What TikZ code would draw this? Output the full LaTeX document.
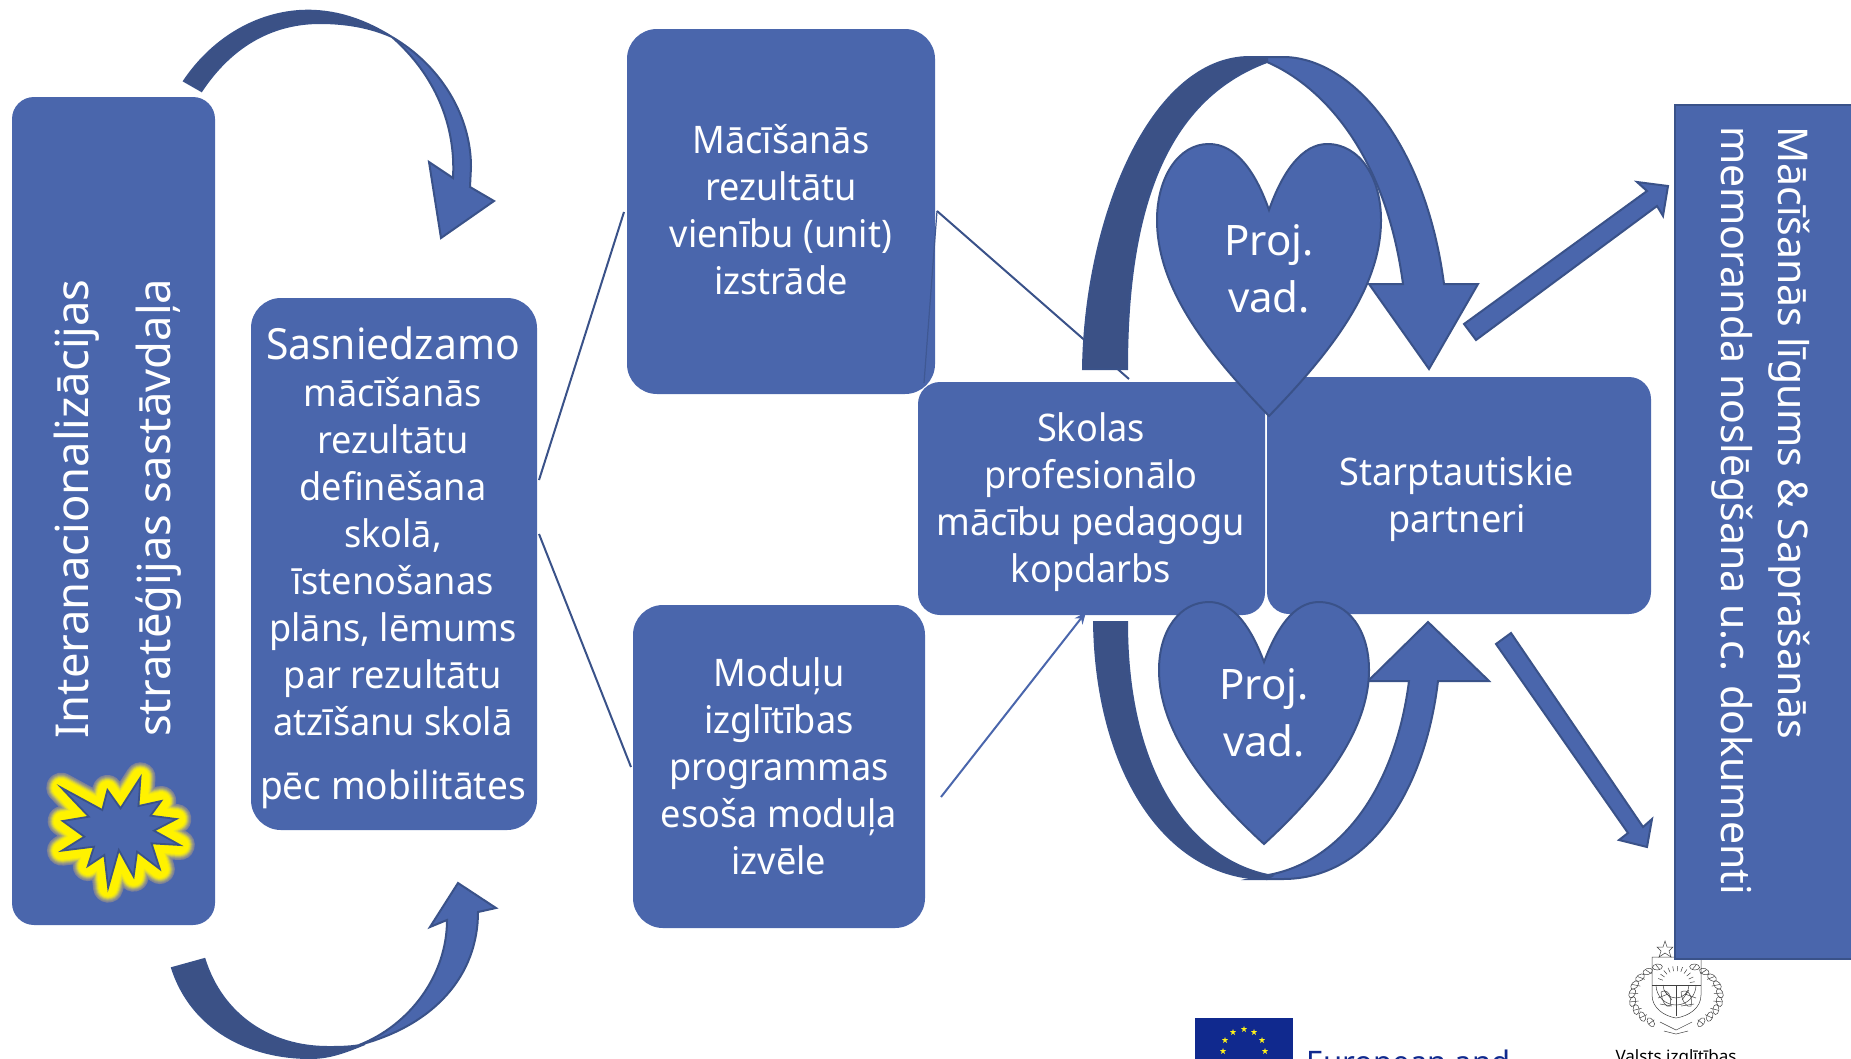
\documentclass[tikz,border=0pt]{standalone}
\usepackage{fontspec}
\setmainfont[FakeStretch=0.95]{Noto Sans}
\newfontfamily\plainfont{Noto Sans}
\usetikzlibrary{arrows.meta}
\definecolor{boxblue}{HTML}{4A66AC}
\definecolor{edgeblue}{HTML}{3A5289}
\definecolor{foldblue}{HTML}{3B5186}
\definecolor{eublue}{HTML}{10298E}
\tikzset{
  boxnode/.style={fill=boxblue,draw=none,text=white,align=center,inner sep=0pt,rounded corners=#1,font=\fontsize{38}{47}\selectfont},
  boxnode/.default=22pt,
  sidetext/.style={text=white,inner sep=0pt,font=\plainfont\fontsize{45.4}{47}\selectfont},
  agrtext/.style={text=white,inner sep=0pt,font=\plainfont\fontsize{41}{47}\selectfont},
  hearttext/.style={text=white,align=center,inner sep=0pt,font=\plainfont\fontsize{42}{57}\selectfont},
  thinlink/.style={draw=edgeblue,line width=2pt},
  arrowlight/.style={fill=boxblue,draw=edgeblue,line width=2pt,line join=miter},
  arrowdark/.style={fill=foldblue,draw=edgeblue,line width=2pt,line join=miter},
  armline/.style={draw=black!75,line width=0.5pt},
}
\newcommand{\euStar}[2]{\fill[yellow!90!white] (#1,#2) ++(0,-3) -- ++(0.8,2.2) -- ++(2.2,0) -- ++(-1.8,1.4) -- ++(0.8,2.4) -- ++(-2,-1.5) -- ++(-2,1.5) -- ++(0.8,-2.4) -- ++(-1.8,-1.4) -- ++(2.2,0) -- cycle;}
\newcommand{\starPath}{(178,143) -- (297,210) -- (312,150) -- (350,205) -- (408,112) -- (402,198) -- (468,183) -- (437,227) -- (512,237) -- (447,272) -- (522,315) -- (440,310) -- (464,387) -- (398,335) -- (388,410) -- (345,330) -- (314,443) -- (303,345) -- (255,378) -- (273,320) -- (180,332) -- (245,290) -- (182,243) -- (258,230) -- cycle}
\begin{document}
\begin{tikzpicture}[x=1pt,y=-1pt]
\useasboundingbox (0,0) rectangle (1851,1058);
\clip (0,0) rectangle (1851,1058);

% logos at the foot
\fill[eublue] (1195,1018) rectangle (1293,1070);
\euStar{1244}{1029}\euStar{1233}{1032}\euStar{1254}{1032}\euStar{1225}{1040}\euStar{1262}{1040}\euStar{1223}{1051}\euStar{1265}{1051}
\node[anchor=base west,inner sep=0pt,text=eublue,font=\plainfont\fontsize{31}{36}\selectfont] (eutext) at (1306,1073) {European and};

% coat of arms
\draw[armline] (1652,957) -- (1652,995) .. controls (1652,1008) and (1664,1016) .. (1676,1018) .. controls (1689,1016) and (1701,1008) .. (1701,995) -- (1701,957) -- cycle;
\draw[armline] (1652,985) -- (1701,985) (1676,985) -- (1676,1016);
\draw[armline] (1656,985) arc[start angle=180,end angle=0,radius=20];
\draw[armline] (1663,985) arc[start angle=180,end angle=0,radius=13];
\foreach \a in {10,25,...,170}{
  \draw[armline] ({1676+14*cos(\a)},{985-14*sin(\a)}) -- ({1676+19*cos(\a)},{985-19*sin(\a)});
}
\draw[armline] (1661,992) .. controls (1668,988) and (1672,996) .. (1670,1006) .. controls (1666,1008) and (1662,1002) .. (1661,992);
\draw[armline] (1664,990) -- (1672,1000) (1658,998) -- (1668,994) (1660,1004) -- (1672,1006);
\draw[armline] (1681,992) .. controls (1688,988) and (1693,996) .. (1691,1006) .. controls (1687,1008) and (1682,1002) .. (1681,992);
\draw[armline] (1689,990) -- (1682,1000) (1696,998) -- (1685,994) (1694,1004) -- (1681,1006);
\draw[armline] (1665,941) -- (1667,947) -- (1673,947) -- (1669,951) -- (1671,957) -- (1665,953) -- (1659,957) -- (1661,951) -- (1657,947) -- (1663,947) -- cycle;
\foreach \a in {-65,-50,...,55}{
  \draw[armline] ({1676-44*cos(\a)},{996+32*sin(\a)}) ellipse[x radius=5,y radius=3,rotate=\a+70];
  \draw[armline] ({1676+44*cos(\a)},{996+32*sin(\a)}) ellipse[x radius=5,y radius=3,rotate=-\a-70];
  \draw[armline] ({1676-38*cos(\a)},{996+29*sin(\a)}) -- ({1676-47*cos(\a)},{996+34*sin(\a)});
  \draw[armline] ({1676+38*cos(\a)},{996+29*sin(\a)}) -- ({1676+47*cos(\a)},{996+34*sin(\a)});
}
\draw[armline] (1660,1022) -- (1676,1030) -- (1692,1022) (1664,1031) -- (1676,1034) -- (1688,1031);
\node[anchor=base,inner sep=0pt,text=black,font=\plainfont\fontsize{17}{20}\selectfont] (viaa) at (1676,1062) {Valsts izglītības};

% free ends of the thin links
\coordinate (la) at (539,480);
\coordinate (lb) at (624,212);
\coordinate (lc) at (539,534);
\coordinate (ld) at (631,767);
\coordinate (le) at (937,211);
\coordinate (lf) at (1129,379);
\coordinate (lg) at (924,383);
\coordinate (lh) at (941,797);
\coordinate (li) at (1086,612);

% boxes
\node[boxnode=22pt,minimum width=203pt,minimum height=828pt] (strategy) at (113.5,511) {};
\node[boxnode=30pt,minimum width=286pt,minimum height=532pt] (outcomes) at (394,564) {};
\node[text=white,align=center,inner sep=0pt,font=\fontsize{38}{47}\selectfont] (outcomestext) at (393,568) {{\fontsize{43}{47}\selectfont Sasniedzamo}\\mācīšanās\\rezultātu\\definēšana\\skolā,\\īstenošanas\\plāns, lēmums\\par rezultātu\\atzīšanu skolā\\[17pt]{\fontsize{39}{47}\selectfont pēc mobilitātes}};
\node[boxnode=30pt,minimum width=308pt,minimum height=365pt] (units) at (781,211.5) {};
\node[text=white,align=center,inner sep=0pt,font=\fontsize{38}{47}\selectfont] (unitstext) at (781,209.5) {Mācīšanās\\rezultātu\\vienību (unit)\\izstrāde};
\node[boxnode=30pt,minimum width=292pt,minimum height=323pt] (modules) at (779,766.5) {Moduļu\\izglītības\\programmas\\esoša moduļa\\izvēle};
\node[boxnode=22pt,minimum width=347pt,minimum height=233pt] (school) at (1091.5,498.5) {};
\node[text=white,align=center,inner sep=0pt,font=\fontsize{38}{47}\selectfont] (schooltext) at (1091,502.5) {Skolas\\profesionālo\\mācību pedagogu\\kopdarbs};
\node[boxnode=22pt,minimum width=384pt,minimum height=237pt] (partners) at (1459,495.5) {};
\node[text=white,align=center,inner sep=0pt,font=\fontsize{38}{47}\selectfont] (partnerstext) at (1457,499.5) {Starptautiskie\\partneri};
\node[fill=boxblue,draw=edgeblue,line width=1.4pt,inner sep=0pt,minimum width=220pt,minimum height=854pt] (agreement) at (1785,532) {};

\node[sidetext,rotate=90,anchor=base west] (stratA) at (88,739) {Interanacionalizācijas};
\node[sidetext,rotate=90,anchor=base west] (stratB) at (170,737) {stratēģijas sastāvdaļa};
\node[agrtext,rotate=-90,anchor=base west] (agrA) at (1778,126) {Mācīšanās līgums \& Saprašanās};
\node[agrtext,rotate=-90,anchor=base west] (agrB) at (1721,126) {memoranda noslēgšana u.c. dokumenti};

% thin links
\draw[thinlink] (la) -- (lb);
\draw[thinlink] (lc) -- (ld);
\draw[thinlink] (le) -- (lf);
\draw[draw=edgeblue!70!boxblue,line width=1.2pt] (le) -- (lg);
\draw[draw=boxblue,line width=2pt,-{Stealth[length=12pt,width=10pt]}] (lh) -- (li);

% star with a glow
\begin{scope}[shift={(0,740)},xscale=0.3444,yscale=0.3333]
\foreach \w/\m in {30/10,28/22,26/40,24/60,22/80,20/92,18/100}{
  \draw[line join=round,line width=\w pt,draw=yellow!\m!boxblue,fill=yellow!\m!boxblue] \starPath;
}
\draw[fill=boxblue,draw=edgeblue,line width=1.8pt,line join=miter] \starPath;
\end{scope}

% curved arrow, top left
\draw[arrowlight] (392,37) .. controls (440,65) and (471,115) .. (471,167) -- (470,187) -- (494,201) -- (441,238) -- (429,162) -- (453,178) .. controls (456,125) and (435,75) .. (392,37) -- cycle;
\draw[arrowdark] (184,81) .. controls (215,35) and (262,10.7) .. (308,10.7) .. controls (340,10.7) and (368,22) .. (392,37) .. controls (370,27) and (345,23) .. (320,23) .. controls (270,23) and (230,48) .. (201.5,91) -- cycle;

% curved arrow, bottom left
\draw[arrowlight] (359,1045) .. controls (410,1025) and (447,975) .. (447,920) -- (430,927) -- (458,883) -- (496,908) -- (478,912) .. controls (478,975) and (435,1025) .. (359,1045) -- cycle;
\draw[arrowdark] (172,968) .. controls (192,1030) and (250,1058) .. (310,1058) .. controls (330,1058) and (345,1052) .. (365,1044) .. controls (352,1047) and (340,1047) .. (328,1047) .. controls (270,1047) and (222,1015) .. (204.5,959) -- cycle;

% loop, top right
\draw[arrowlight] (1267,62) .. controls (1320,85) and (1385,150) .. (1403,284) -- (1369,284) -- (1429,369) -- (1478,284) -- (1444,284) .. controls (1425,140) and (1350,57) .. (1283,57) -- (1250,57) -- cycle;
\draw[arrowdark] (1083,369) .. controls (1085,220) and (1150,57) .. (1250,57) -- (1267,58) -- (1267,62) .. controls (1165,100) and (1127,210) .. (1127,369) -- cycle;

% loop, bottom right
\draw[arrowlight] (1268,875) .. controls (1340,862) and (1395,790) .. (1409,681) -- (1368,681) -- (1428,622) -- (1489,681) -- (1438,681) .. controls (1425,790) and (1370,879) .. (1283,879) -- (1250,879) -- cycle;
\draw[arrowdark] (1094,622) .. controls (1096,770) and (1165,879) .. (1267,879) -- (1272,876) -- (1268,875) .. controls (1195,860) and (1127,780) .. (1127,622) -- cycle;

% hearts
\draw[arrowlight] (1269,210) .. controls (1255,170) and (1235,144) .. (1209,144) .. controls (1178,144) and (1157,178) .. (1157,220) .. controls (1157,290) and (1210,355) .. (1269,416) .. controls (1328,355) and (1381,290) .. (1381,220) .. controls (1381,178) and (1360,144) .. (1327,144) .. controls (1303,144) and (1283,170) .. (1269,210) -- cycle;
\node[hearttext] (leadA) at (1269,269) {Proj.\\vad.};
\draw[arrowlight] (1264,662) .. controls (1252,630) and (1235,602) .. (1209,602) .. controls (1180,602) and (1159,630) .. (1159,670) .. controls (1159,730) and (1205,790) .. (1264,844) .. controls (1323,790) and (1369,730) .. (1369,670) .. controls (1369,630) and (1348,602) .. (1319,602) .. controls (1293,602) and (1276,630) .. (1264,662) -- cycle;
\node[hearttext] (leadB) at (1264,713) {Proj.\\vad.};

% straight block arrows
\draw[arrowlight] (1464,324) -- (1647,191) -- (1637,182) -- (1668,186) -- (1663,216) -- (1657,206) -- (1476,340) -- cycle;
\draw[arrowlight] (1496,644) -- (1511,633) -- (1643,827) -- (1652,819) -- (1647,847) -- (1619,840) -- (1628,833) -- cycle;
\end{tikzpicture}
\end{document}
